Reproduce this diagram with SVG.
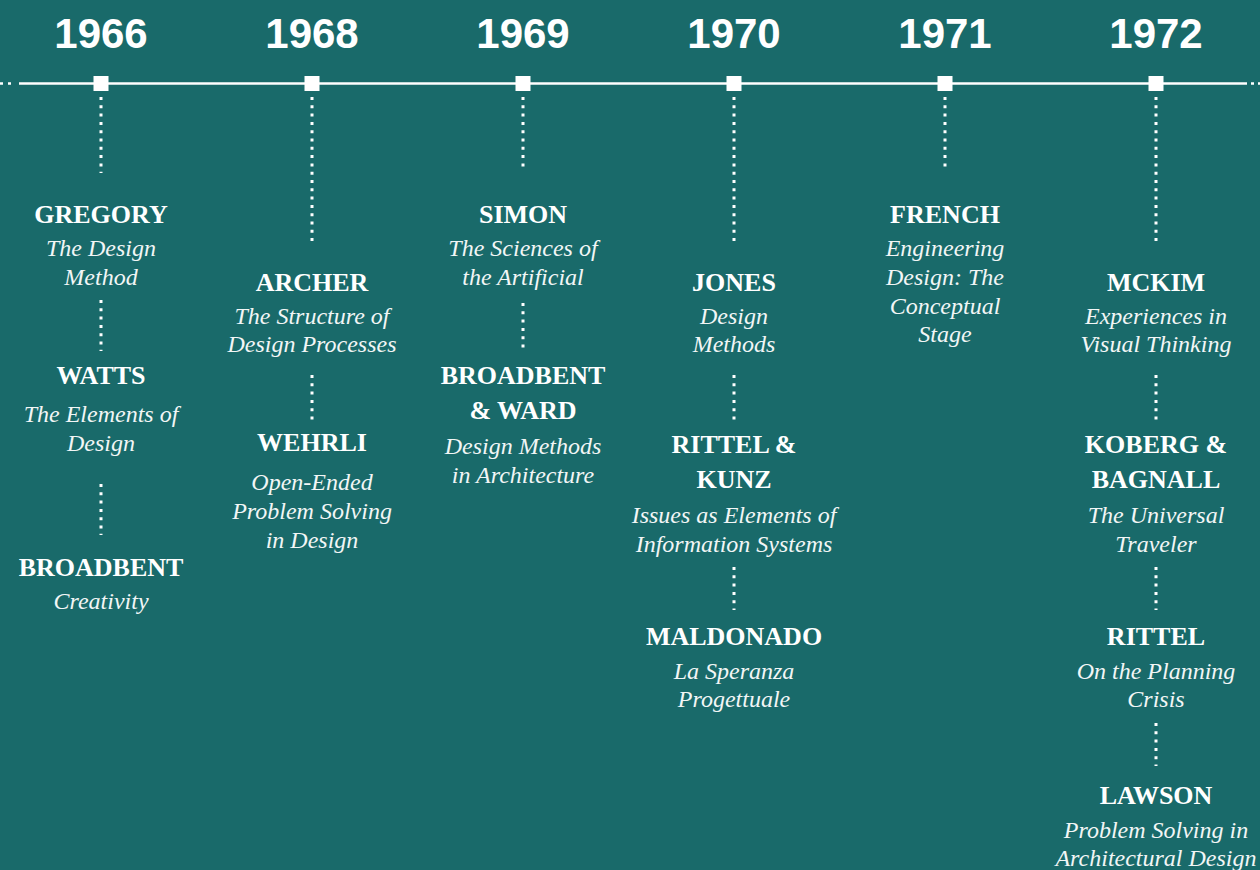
<svg xmlns="http://www.w3.org/2000/svg" width="1260" height="870" viewBox="0 0 1260 870">
  <style>
    .year { font-family: "Liberation Sans", Arial, sans-serif; font-weight: bold; font-size: 42px; fill: #ffffff; text-anchor: middle; }
    .name { font-family: "Liberation Serif", "Times New Roman", serif; font-weight: bold; font-size: 26px; fill: #ffffff; text-anchor: middle; }
    .work { font-family: "Liberation Serif", "Times New Roman", serif; font-style: italic; font-size: 24px; fill: #f2f6f6; text-anchor: middle; }
    .dots { stroke: #ffffff; stroke-width: 3; stroke-dasharray: 3 5.3; fill: none; }
    .axis { stroke: #ffffff; stroke-width: 2.5; fill: none; }
    .tick { fill: #ffffff; }
  </style>
  <rect x="0" y="0" width="1260" height="870" fill="#196a6a"/>

  <!-- timeline axis with year markers -->
  <g id="axis">
    <line class="axis" x1="19" y1="83.5" x2="1247" y2="83.5"/>
    <line class="axis" x1="0" y1="83.5" x2="14" y2="83.5" stroke-dasharray="3 5"/>
    <line class="axis" x1="1251" y1="83.5" x2="1260" y2="83.5" stroke-dasharray="3 4"/>
    <rect class="tick" x="93.5" y="76" width="15" height="15"/>
    <rect class="tick" x="304.5" y="76" width="15" height="15"/>
    <rect class="tick" x="515.5" y="76" width="15" height="15"/>
    <rect class="tick" x="726.5" y="76" width="15" height="15"/>
    <rect class="tick" x="937.5" y="76" width="15" height="15"/>
    <rect class="tick" x="1148.5" y="76" width="15" height="15"/>
  </g>

  <!-- dotted connectors -->
  <g id="connectors">
    <line class="dots" x1="101" y1="97" x2="101" y2="173"/>
    <line class="dots" x1="101" y1="300" x2="101" y2="351"/>
    <line class="dots" x1="101" y1="484" x2="101" y2="535"/>

    <line class="dots" x1="312" y1="97" x2="312" y2="246"/>
    <line class="dots" x1="312" y1="375" x2="312" y2="420"/>

    <line class="dots" x1="523" y1="97" x2="523" y2="171"/>
    <line class="dots" x1="523" y1="303" x2="523" y2="351"/>

    <line class="dots" x1="734" y1="97" x2="734" y2="246"/>
    <line class="dots" x1="734" y1="375" x2="734" y2="420"/>
    <line class="dots" x1="734" y1="567" x2="734" y2="610"/>

    <line class="dots" x1="945" y1="97" x2="945" y2="171"/>

    <line class="dots" x1="1156" y1="97" x2="1156" y2="246"/>
    <line class="dots" x1="1156" y1="375" x2="1156" y2="420"/>
    <line class="dots" x1="1156" y1="567" x2="1156" y2="610"/>
    <line class="dots" x1="1156" y1="723" x2="1156" y2="766"/>
  </g>

  <!-- years -->
  <g id="years">
    <text class="year" x="101" y="48">1966</text>
    <text class="year" x="312" y="48">1968</text>
    <text class="year" x="523" y="48">1969</text>
    <text class="year" x="734" y="48">1970</text>
    <text class="year" x="945" y="48">1971</text>
    <text class="year" x="1156" y="48">1972</text>
  </g>

  <!-- 1966 -->
  <g id="gregory">
    <text class="name" x="101" y="223">GREGORY</text>
    <text class="work" x="101" y="256">The Design</text>
    <text class="work" x="101" y="285">Method</text>
  </g>
  <g id="watts">
    <text class="name" x="101" y="384">WATTS</text>
    <text class="work" x="101" y="422">The Elements of</text>
    <text class="work" x="101" y="451">Design</text>
  </g>
  <g id="broadbent-1966">
    <text class="name" x="101" y="576">BROADBENT</text>
    <text class="work" x="101" y="609">Creativity</text>
  </g>

  <!-- 1968 -->
  <g id="archer">
    <text class="name" x="312" y="291">ARCHER</text>
    <text class="work" x="312" y="324">The Structure of</text>
    <text class="work" x="312" y="352">Design Processes</text>
  </g>
  <g id="wehrli">
    <text class="name" x="312" y="451">WEHRLI</text>
    <text class="work" x="312" y="490">Open-Ended</text>
    <text class="work" x="312" y="519">Problem Solving</text>
    <text class="work" x="312" y="548">in Design</text>
  </g>

  <!-- 1969 -->
  <g id="simon">
    <text class="name" x="523" y="223">SIMON</text>
    <text class="work" x="523" y="256">The Sciences of</text>
    <text class="work" x="523" y="285">the Artificial</text>
  </g>
  <g id="broadbent-ward">
    <text class="name" x="523" y="384">BROADBENT</text>
    <text class="name" x="523" y="419">&amp; WARD</text>
    <text class="work" x="523" y="454">Design Methods</text>
    <text class="work" x="523" y="483">in Architecture</text>
  </g>

  <!-- 1970 -->
  <g id="jones">
    <text class="name" x="734" y="291">JONES</text>
    <text class="work" x="734" y="324">Design</text>
    <text class="work" x="734" y="352">Methods</text>
  </g>
  <g id="rittel-kunz">
    <text class="name" x="734" y="453">RITTEL &amp;</text>
    <text class="name" x="734" y="488">KUNZ</text>
    <text class="work" x="734" y="523">Issues as Elements of</text>
    <text class="work" x="734" y="552">Information Systems</text>
  </g>
  <g id="maldonado">
    <text class="name" x="734" y="645">MALDONADO</text>
    <text class="work" x="734" y="679">La Speranza</text>
    <text class="work" x="734" y="707">Progettuale</text>
  </g>

  <!-- 1971 -->
  <g id="french">
    <text class="name" x="945" y="223">FRENCH</text>
    <text class="work" x="945" y="256">Engineering</text>
    <text class="work" x="945" y="285">Design: The</text>
    <text class="work" x="945" y="314">Conceptual</text>
    <text class="work" x="945" y="342">Stage</text>
  </g>

  <!-- 1972 -->
  <g id="mckim">
    <text class="name" x="1156" y="291">MCKIM</text>
    <text class="work" x="1156" y="324">Experiences in</text>
    <text class="work" x="1156" y="352">Visual Thinking</text>
  </g>
  <g id="koberg-bagnall">
    <text class="name" x="1156" y="453">KOBERG &amp;</text>
    <text class="name" x="1156" y="488">BAGNALL</text>
    <text class="work" x="1156" y="523">The Universal</text>
    <text class="work" x="1156" y="552">Traveler</text>
  </g>
  <g id="rittel">
    <text class="name" x="1156" y="645">RITTEL</text>
    <text class="work" x="1156" y="679">On the Planning</text>
    <text class="work" x="1156" y="707">Crisis</text>
  </g>
  <g id="lawson">
    <text class="name" x="1156" y="804">LAWSON</text>
    <text class="work" x="1156" y="838">Problem Solving in</text>
    <text class="work" x="1156" y="866">Architectural Design</text>
  </g>
</svg>
